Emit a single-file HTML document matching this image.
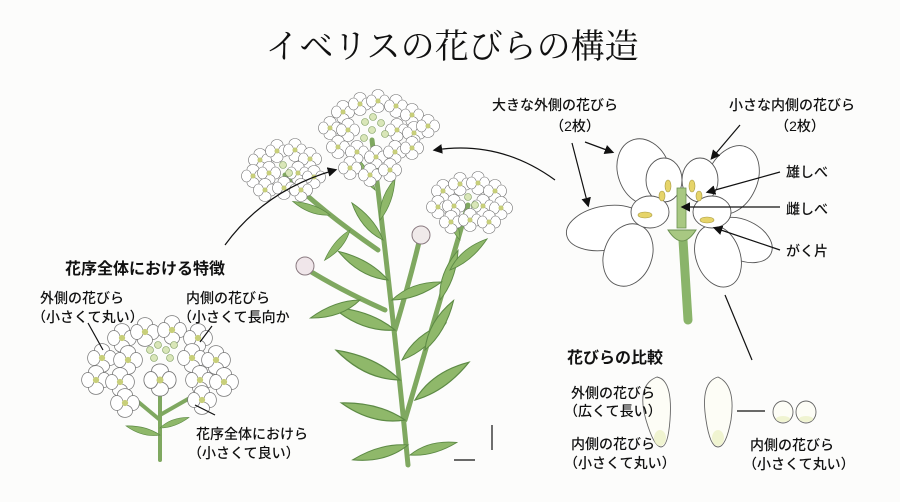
<!DOCTYPE html>
<html><head><meta charset="utf-8"><style>
html,body{margin:0;padding:0;background:#fcfcfb;}
svg{display:block}
text{font-family:"Liberation Sans","Noto Sans CJK JP",sans-serif;fill:#111;}
.t{font-family:"Liberation Serif","Noto Serif CJK JP",serif;font-size:34px;}
.h{font-size:16px;font-weight:bold;}
.s{font-size:14px;font-weight:500;}
</style></head><body>
<svg width="900" height="502" viewBox="0 0 900 502" xmlns="http://www.w3.org/2000/svg">
<defs>
<g id="f">
<ellipse cx="0" cy="-6.5" rx="6" ry="5" fill="#fff" stroke="#777" stroke-width="0.6"/>
<ellipse cx="6.5" cy="0" rx="5" ry="6" fill="#fff" stroke="#777" stroke-width="0.6"/>
<ellipse cx="0" cy="6.5" rx="6" ry="5" fill="#fff" stroke="#777" stroke-width="0.6"/>
<ellipse cx="-6.5" cy="0" rx="5" ry="6" fill="#fff" stroke="#777" stroke-width="0.6"/>
<circle r="2.5" fill="#c8cf7a"/>
</g>
<g id="b"><circle r="3.5" fill="#d9e6b8" stroke="#7a9a5a" stroke-width="0.6"/></g>
<g id="leaf"><path d="M0 0 Q20 -9 44 0 Q20 7 0 0Z" fill="#8fb86a" stroke="#5d8a45" stroke-width="0.8"/></g>
<marker id="ar" markerWidth="8" markerHeight="8" refX="6" refY="4" orient="auto"><path d="M0 0L8 4L0 8Z" fill="#111"/></marker>
</defs>

<text class="t" x="452" y="58" text-anchor="middle">イベリスの花びらの構造</text>

<!-- main plant stems -->
<g fill="none" stroke="#7fa860" stroke-width="5" stroke-linecap="round">
<path d="M408 465 Q395 330 372 140"/>
<path d="M405 420 Q440 300 468 205"/>
<path d="M378 250 Q320 210 285 175"/>
<path d="M395 330 Q410 280 420 238"/>
<path d="M385 310 Q340 290 305 268"/>
</g>
<g>
<use href="#leaf" transform="translate(395,330) rotate(200) scale(1.5)"/>
<use href="#leaf" transform="translate(400,380) rotate(205) scale(1.6)"/>
<use href="#leaf" transform="translate(405,420) rotate(195) scale(1.5)"/>
<use href="#leaf" transform="translate(408,445) rotate(165) scale(1.3)"/>
<use href="#leaf" transform="translate(402,360) rotate(-40) scale(1.3)"/>
<use href="#leaf" transform="translate(415,400) rotate(-35) scale(1.5)"/>
<use href="#leaf" transform="translate(425,350) rotate(-60) scale(1.3)"/>
<use href="#leaf" transform="translate(440,300) rotate(-70) scale(1.2)"/>
<use href="#leaf" transform="translate(450,270) rotate(-40) scale(1.1)"/>
<use href="#leaf" transform="translate(388,280) rotate(210) scale(1.3)"/>
<use href="#leaf" transform="translate(383,240) rotate(230) scale(1.1)"/>
<use href="#leaf" transform="translate(380,220) rotate(-70) scale(1.0)"/>
<use href="#leaf" transform="translate(375,190) rotate(240) scale(0.9)"/>
<use href="#leaf" transform="translate(350,230) rotate(130) scale(0.9)"/>
<use href="#leaf" transform="translate(330,215) rotate(200) scale(0.9)"/>
<use href="#leaf" transform="translate(392,300) rotate(-20) scale(1.2)"/>
<use href="#leaf" transform="translate(360,300) rotate(160) scale(1.2)"/>
<use href="#leaf" transform="translate(460,240) rotate(-110) scale(0.9)"/>
<use href="#leaf" transform="translate(410,455) rotate(-15) scale(1.1)"/>
</g>
<circle cx="421" cy="235" r="9" fill="#f0eaea" stroke="#8a7a80"/>
<circle cx="305" cy="266" r="9" fill="#f0e6ea" stroke="#8a7a80"/>

<!-- top cluster -->
<g>
<use href="#f" x="343" y="112"/><use href="#f" x="360" y="104"/><use href="#f" x="378" y="101"/><use href="#f" x="396" y="106"/><use href="#f" x="412" y="115"/>
<use href="#f" x="330" y="128"/><use href="#f" x="348" y="130"/><use href="#f" x="397" y="130"/><use href="#f" x="414" y="133"/><use href="#f" x="428" y="126"/>
<use href="#f" x="338" y="147"/><use href="#f" x="357" y="152"/><use href="#f" x="376" y="157"/><use href="#f" x="395" y="152"/><use href="#f" x="412" y="148"/>
<use href="#f" x="350" y="168"/><use href="#f" x="370" y="175"/><use href="#f" x="390" y="170"/>
<use href="#b" x="365" y="122"/><use href="#b" x="373" y="117"/><use href="#b" x="381" y="123"/><use href="#b" x="372" y="130"/><use href="#b" x="385" y="134"/><use href="#b" x="364" y="138"/>
</g>
<!-- left cluster -->
<g>
<use href="#f" x="260" y="160"/><use href="#f" x="277" y="151"/><use href="#f" x="295" y="150"/><use href="#f" x="310" y="159"/>
<use href="#f" x="253" y="176"/><use href="#f" x="269" y="173"/><use href="#f" x="298" y="173"/><use href="#f" x="314" y="177"/>
<use href="#f" x="265" y="190"/><use href="#f" x="284" y="188"/><use href="#f" x="301" y="190"/>
<use href="#b" x="283" y="165"/><use href="#b" x="289" y="173"/>
</g>
<!-- right cluster -->
<g>
<use href="#f" x="443" y="191"/><use href="#f" x="460" y="184"/><use href="#f" x="478" y="183"/><use href="#f" x="495" y="191"/>
<use href="#f" x="438" y="207"/><use href="#f" x="454" y="206"/><use href="#f" x="483" y="206"/><use href="#f" x="501" y="208"/>
<use href="#f" x="451" y="222"/><use href="#f" x="470" y="220"/><use href="#f" x="489" y="222"/>
<use href="#b" x="468" y="197"/><use href="#b" x="475" y="205"/>
</g>

<!-- small inflorescence left -->
<g fill="none" stroke="#7fa860" stroke-width="4" stroke-linecap="round">
<path d="M160 460 L160 380"/><path d="M160 420 L130 395"/><path d="M160 415 L195 395"/>
</g>
<use href="#leaf" transform="translate(160,435) rotate(195) scale(0.8)"/>
<use href="#leaf" transform="translate(160,428) rotate(-20) scale(0.7)"/>
<g>
<use href="#f" transform="translate(122,338) scale(1.25)"/><use href="#f" transform="translate(145,332) scale(1.25)"/><use href="#f" transform="translate(172,330) scale(1.25)"/><use href="#f" transform="translate(198,338) scale(1.25)"/>
<use href="#f" transform="translate(102,358) scale(1.25)"/><use href="#f" transform="translate(128,360) scale(1.25)"/><use href="#f" transform="translate(192,358) scale(1.25)"/><use href="#f" transform="translate(216,360) scale(1.25)"/>
<use href="#f" transform="translate(96,380) scale(1.25)"/><use href="#f" transform="translate(120,382) scale(1.25)"/><use href="#f" transform="translate(160,380) scale(1.4)"/><use href="#f" transform="translate(200,380) scale(1.25)"/><use href="#f" transform="translate(224,382) scale(1.25)"/>
<use href="#f" transform="translate(125,403) scale(1.25)"/><use href="#f" transform="translate(202,400) scale(1.25)"/>
<use href="#b" x="150" y="350"/><use href="#b" x="158" y="345"/><use href="#b" x="166" y="350"/><use href="#b" x="174" y="345"/><use href="#b" x="154" y="358"/><use href="#b" x="170" y="358"/>
</g>

<!-- big flower -->
<path d="M683 240 Q686 290 688 320" stroke="#8ab46a" stroke-width="9" fill="none" stroke-linecap="round"/>
<g fill="#fff" stroke="#555" stroke-width="0.9">
<ellipse cx="644" cy="172" rx="26" ry="34" transform="rotate(-20 644 172)"/>
<ellipse cx="732" cy="180" rx="25" ry="36" transform="rotate(25 732 180)"/>
<ellipse cx="606" cy="228" rx="40" ry="22" transform="rotate(-10 606 228)"/>
<ellipse cx="742" cy="240" rx="32" ry="20" transform="rotate(25 742 240)"/>
<ellipse cx="628" cy="255" rx="24" ry="32" transform="rotate(20 628 255)"/>
<ellipse cx="718" cy="256" rx="22" ry="32" transform="rotate(-20 718 256)"/>
<ellipse cx="664" cy="180" rx="18" ry="22"/>
<ellipse cx="700" cy="180" rx="18" ry="22"/>
<ellipse cx="650" cy="212" rx="19" ry="16"/>
<ellipse cx="712" cy="212" rx="19" ry="16"/>
</g>
<path d="M668 230 Q682 252 696 230 Z" fill="#a8c882" stroke="#6a9050"/>
<rect x="677" y="188" width="9" height="40" fill="#a8c882" stroke="#6a9050" stroke-width="0.8"/>
<g fill="#e6d46a" stroke="#a89a40" stroke-width="0.6">
<ellipse cx="668" cy="186" rx="3" ry="6"/><ellipse cx="692" cy="186" rx="3" ry="6"/>
<ellipse cx="662" cy="196" rx="3" ry="5"/><ellipse cx="699" cy="196" rx="3" ry="5"/>
<ellipse cx="645" cy="215" rx="7" ry="3"/><ellipse cx="707" cy="220" rx="7" ry="3"/>
</g>

<g stroke="#111" stroke-width="1.2" fill="none">
<path d="M225 245 Q265 190 335 170" marker-end="url(#ar)"/>
<path d="M555 180 Q500 140 435 150" marker-end="url(#ar)"/>
<path d="M585 142 L612 152" marker-end="url(#ar)"/>
<path d="M572 143 L588 205" marker-end="url(#ar)"/>
<path d="M740 125 L712 158" marker-end="url(#ar)"/>
<path d="M780 172 L708 192" marker-end="url(#ar)"/>
<path d="M780 207 L683 207" marker-end="url(#ar)"/>
<path d="M780 250 L715 228" marker-end="url(#ar)"/>
<path d="M725 295 L752 360"/>
<path d="M88 323 L103 350"/>
<path d="M212 326 L200 342"/>
<path d="M215 415 L195 405"/>
<path d="M648 425 L655 418"/>
<path d="M737 411 L765 411"/>
<path d="M454 460 L475 460"/><path d="M492 425 L492 450"/>
</g>

<g fill="#fdfdf6" stroke="#666" stroke-width="0.9">
<path d="M657 377 Q673 380 670 420 Q668 447 661 447 Q654 447 646 420 Q636 385 657 377Z"/>
<path d="M718 377 Q736 385 731 420 Q726 447 718 447 Q710 447 706 420 Q700 382 718 377Z"/>
<ellipse cx="783" cy="412" rx="10" ry="11"/>
<ellipse cx="806" cy="412" rx="10" ry="11"/>
</g>
<g fill="#eef2c8" opacity="0.8">
<ellipse cx="660" cy="438" rx="6" ry="8"/><ellipse cx="718" cy="438" rx="6" ry="8"/>
<ellipse cx="783" cy="419" rx="7" ry="3"/><ellipse cx="806" cy="419" rx="7" ry="3"/>
</g>

<text class="s" x="555" y="110" text-anchor="middle">大きな外側の花びら</text>
<text class="s" x="575" y="131" text-anchor="middle">（2枚）</text>
<text class="s" x="792" y="110" text-anchor="middle">小さな内側の花びら</text>
<text class="s" x="800" y="131" text-anchor="middle">（2枚）</text>
<text class="s" x="786" y="177">雄しべ</text>
<text class="s" x="786" y="214">雌しべ</text>
<text class="s" x="786" y="256">がく片</text>
<text class="h" x="65" y="274">花序全体における特徴</text>
<text class="s" x="40" y="303">外側の花びら</text>
<text class="s" x="32" y="322">（小さくて丸い）</text>
<text class="s" x="186" y="303">内側の花びら</text>
<text class="s" x="178" y="322">（小さくて長向か</text>
<text class="s" x="196" y="439">花序全体におけら</text>
<text class="s" x="188" y="458">（小さくて良い）</text>
<text class="h" x="567" y="363">花びらの比較</text>
<text class="s" x="571" y="398">外側の花びら</text>
<text class="s" x="564" y="416">（広くて長い）</text>
<text class="s" x="571" y="449">内側の花びら</text>
<text class="s" x="564" y="468">（小さくて丸い）</text>
<text class="s" x="750" y="450">内側の花びら</text>
<text class="s" x="743" y="469">（小さくて丸い）</text>
</svg>
</body></html>
